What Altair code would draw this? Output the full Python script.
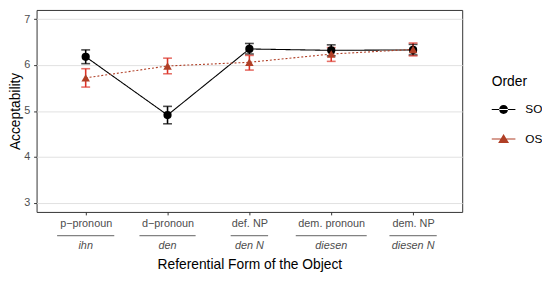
import altair as alt
import pandas as pd

categories = ["p\u2212pronoun", "d\u2212pronoun", "def. NP", "dem. pronoun", "dem. NP"]
examples = ["ihn", "den", "den N", "diesen", "diesen N"]
orders = ["SO", "OS"]

so_mean = [6.18, 4.91, 6.35, 6.32, 6.33]
so_lo = [6.03, 4.72, 6.24, 6.20, 6.22]
so_hi = [6.33, 5.10, 6.47, 6.44, 6.45]

os_mean = [5.72, 5.98, 6.06, 6.24, 6.34]
os_lo = [5.52, 5.81, 5.89, 6.08, 6.20]
os_hi = [5.92, 6.15, 6.21, 6.38, 6.48]

# style: widths of the separator rules under the first label line (px)
rule_widths = [58, 57, 38, 72, 48]

rows = []
for o, m, lo, hi in (("SO", so_mean, so_lo, so_hi), ("OS", os_mean, os_lo, os_hi)):
    for c, mv, l, h in zip(categories, m, lo, hi):
        rows.append({"cat": c, "Order": o, "mean": mv, "lo": l, "hi": h})
df = pd.DataFrame(rows)
df_cat = pd.DataFrame({"cat": categories, "ex": examples, "rw": rule_widths})

W, H = 432, 205
ink = "#4d4d4d"
so_col = "black"
os_col = "#b03f26"
os_err = "#dc3328"

xenc = alt.X(
    "cat:N",
    sort=categories,
    scale=alt.Scale(type="point", padding=0.6),
    axis=alt.Axis(
        title="Referential Form of the Object",
        labelAngle=0,
        labelFontSize=11,
        labelColor=ink,
        labelPadding=3,
        tickSize=3,
        tickColor="#333333",
        domain=False,
        gridColor="#e3e3e3",
        titleFontSize=14,
        titleFontWeight="normal",
        titleColor="black",
        titlePadding=29,
    ),
)

yenc = alt.Y(
    "mean:Q",
    scale=alt.Scale(domain=[2.8, 7.2], nice=False, zero=False),
    axis=alt.Axis(
        title="Acceptability",
        values=[3, 3.5, 4, 4.5, 5, 5.5, 6, 6.5, 7],
        labelExpr="datum.value % 1 === 0 ? datum.label : ''",
        labelFontSize=11,
        labelColor=ink,
        labelPadding=4,
        tickSize=3,
        tickColor={"condition": {"test": "datum.value % 1 !== 0", "value": "transparent"}, "value": "#333333"},
        gridColor={"condition": {"test": "datum.value % 1 !== 0", "value": "#ececec"}, "value": "#e1e1e1"},
        domain=False,
        titleFontSize=14,
        titleFontWeight="normal",
        titleColor="black",
        titlePadding=1,
    ),
)

legend = alt.Legend(
    title="Order",
    orient="none",
    legendX=462,
    legendY=66,
    titleFontSize=14,
    titleFontWeight="normal",
    titleColor="black",
    titlePadding=9,
    labelFontSize=12,
    labelColor="black",
    labelOffset=10,
    symbolSize=576,
    symbolOpacity=1,
    symbolStrokeWidth=0,
    rowPadding=12,
)

# legend key shapes: a thin bar (the line) plus the point glyph
key_so = "M-1,-0.045H1V0.045H-1Z M-0.375,0a0.375,0.375 0 1,0 0.75,0a0.375,0.375 0 1,0 -0.75,0Z"
key_os = "M-1,-0.045H1V0.045H-1Z M0,-0.42L0.46,0.33L-0.46,0.33Z"

base = alt.Chart(df).encode(x=xenc)

color_enc = alt.Color("Order:N", scale=alt.Scale(domain=orders, range=[so_col, os_col]), legend=legend)

lines = base.mark_line(strokeWidth=1.1).encode(
    y=yenc,
    color=color_enc,
    strokeDash=alt.StrokeDash("Order:N", scale=alt.Scale(domain=orders, range=[[1, 0], [2, 2]]), legend=None),
)

err_color = alt.condition(alt.datum.Order == "SO", alt.value(so_col), alt.value(os_err))

err = base.mark_rule(strokeWidth=1.6).encode(y="lo:Q", y2="hi:Q", color=err_color)
cap_lo = base.mark_tick(orient="horizontal", thickness=1.6, size=9).encode(y="lo:Q", color=err_color)
cap_hi = base.mark_tick(orient="horizontal", thickness=1.6, size=9).encode(y="hi:Q", color=err_color)

pts_so = base.transform_filter(alt.datum.Order == "SO").mark_point(
    filled=True, opacity=1, size=70, shape="circle"
).encode(y="mean:Q", color=color_enc)
pts_os = base.transform_filter(alt.datum.Order == "OS").mark_point(
    filled=True, opacity=1, size=75, shape="triangle-up"
).encode(y="mean:Q", color=color_enc)

key_layer = base.transform_filter("false").mark_point(filled=True, opacity=1).encode(
    y="mean:Q",
    color=color_enc,
    shape=alt.Shape("Order:N", scale=alt.Scale(domain=orders, range=[key_so, key_os]), legend=legend),
)

cat_base = alt.Chart(df_cat).encode(x=alt.X("cat:N", sort=categories))

sep = cat_base.mark_tick(orient="horizontal", thickness=1.2, color=ink).encode(
    y=alt.value(H + 24), size=alt.Size("rw:Q", scale=None)
)
ex_text = cat_base.mark_text(fontStyle="italic", fontSize=11, color=ink, baseline="middle").encode(
    y=alt.value(H + 35), text="ex:N"
)

chart = (
    alt.layer(lines, err, cap_lo, cap_hi, pts_so, pts_os, key_layer, sep, ex_text)
    .properties(
        width=W,
        height=H,
        autosize=alt.AutoSizeParams(type="none"),
        padding={"left": 29, "top": 0, "right": 81, "bottom": 60},
    )
    .configure(font="Liberation Sans")
    .configure_view(stroke="#333333", strokeWidth=1)
)

chart.save("out.html", embed_options={"renderer": "svg", "actions": False})
